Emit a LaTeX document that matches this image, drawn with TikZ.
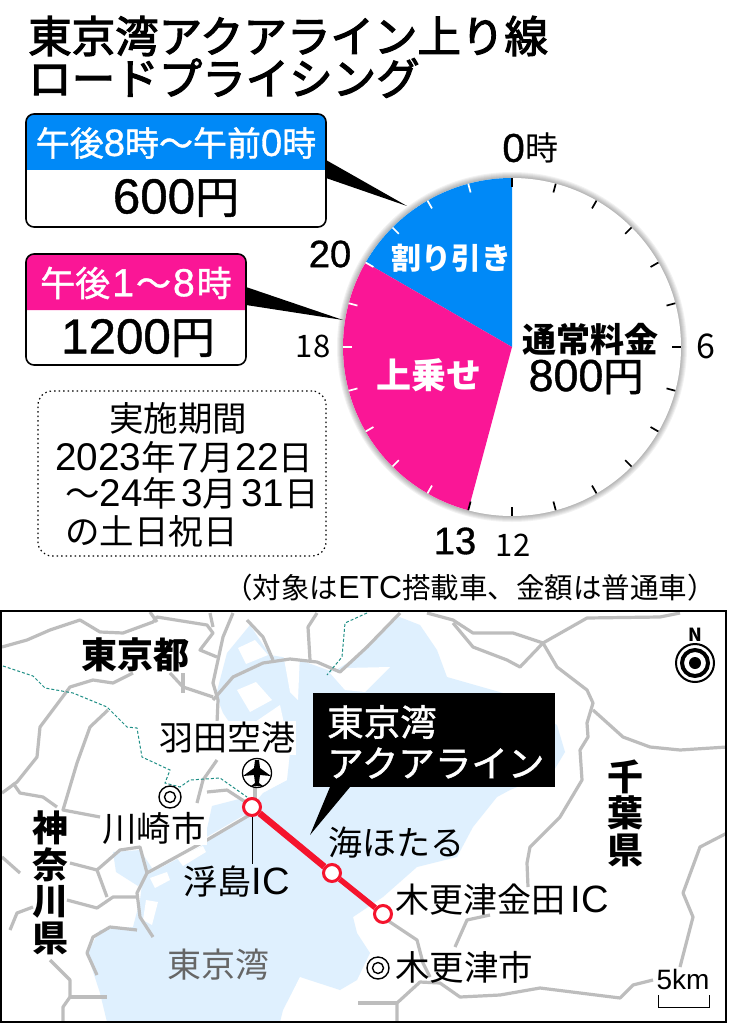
\documentclass[tikz,border=0pt]{standalone}
\usepackage{fontspec}
\setmainfont{Noto Sans CJK JP}
\newfontfamily\medjp[FakeBold=1.2]{Noto Sans CJK JP}
\newfontfamily\heavyjp[FakeBold=2.6]{Noto Sans CJK JP}
\newfontfamily\lat[Scale=1.12]{Liberation Sans}
\newfontfamily\latm[Scale=1.12,FakeBold=0.9]{Liberation Sans}
\definecolor{discount}{HTML}{0089F7}
\definecolor{surcharge}{HTML}{FA1696}
\definecolor{bay}{HTML}{DFF0FE}
\definecolor{road}{HTML}{BDBDBD}
\definecolor{border}{HTML}{1F8F86}
\definecolor{line}{HTML}{F5142D}
\begin{document}
\begin{tikzpicture}[
      x=1pt,y=-1pt,
      txt/.style={inner sep=0pt,font=\fontsize{#1}{#1}\selectfont},
      med/.style={inner sep=0pt,font=\fontsize{#1}{#1}\selectfont\medjp},
      bold/.style={inner sep=0pt,font=\fontsize{#1}{#1}\selectfont\bfseries},
      tall/.style={inner sep=0pt,align=center,font=\fontsize{#1}{36.5}\selectfont\bfseries},
      farebox/.style={draw,rounded corners=8,line width=1.6pt,inner sep=0pt},
      tick/.style={line width=1.7pt},
      roadway/.style={draw=road,line width=3.2pt,line join=round},
      bound/.style={draw=border,line width=1pt,densely dashed},
      ic/.style={draw=line,line width=3pt,fill=white,circle,minimum size=17pt,inner sep=0pt},
      city/.style={draw,line width=1.4pt,circle,minimum size=22pt,inner sep=0pt},
    ]
    \useasboundingbox (0,0) rectangle (728,1024);
    \fill[white] (0,0) rectangle (728,1024);

    \node[txt=43.5,anchor=west] (title1) at (28,36) {\heavyjp 東京湾アクアライン上り線};
    \node[txt=43.5,anchor=west] (title2) at (28,78) {\heavyjp ロードプライシング};

    \begin{scope}[shift={(512,347)},y=1pt]
      \foreach \r in {175,174,173,172,171,170}
        \fill[black,opacity=0.05] (0,0) circle (\r);
      \fill[white] (0,0) circle (169);
      \fill[discount] (0,0) -- (90:169) arc[start angle=90,end angle=150,radius=169] -- cycle;
      \fill[surcharge] (0,0) -- (150:169) arc[start angle=150,end angle=255,radius=169] -- cycle;
      \foreach \h in {0,...,13}
        \draw[tick] ({90-15*\h}:160) -- ({90-15*\h}:169);
      \foreach \h in {14,...,23}
        \draw[tick,white] ({90-15*\h}:160) -- ({90-15*\h}:169);
    \end{scope}

    \node[bold=30,white] (cut) at (451,258) {割り引き};
    \node[bold=35,white] (extra) at (429,375) {上乗せ};
    \node[bold=34] (normal) at (590,340) {通常料金};
    \node[med=40] (normalyen) at (586,377) {{\latm 800}円};

    \node[txt=36,anchor=east] (h0) at (525,148) {\latm 0};
    \node[txt=33,anchor=west] (h0b) at (h0.east) {時};
    \node[txt=34] (h20) at (330,254) {\latm 20};
    \node[txt=31] (h18) at (313,346) {18};
    \node[txt=34] (h6) at (706,346) {6};
    \node[txt=31] (h12) at (513,545) {12};
    \node[txt=34] (h13) at (455,541) {\latm 13};

    \coordinate (bluetip) at (407,206);
    \coordinate (pinktip) at (343,320);
    \fill (326,160) -- (bluetip) -- (326,178) -- cycle;
    \fill (246,287) -- (pinktip) -- (246,305) -- cycle;

    \fill[discount,rounded corners=8] (26,170) [sharp corners] -- (26,170) [rounded corners=8] -- (26,114) -- (326,114) [sharp corners] -- (326,170) -- cycle;
    \fill[surcharge,rounded corners=8] (26,310) [sharp corners] -- (26,310) [rounded corners=8] -- (26,254) -- (246,254) [sharp corners] -- (246,310) -- cycle;
    \node[farebox,minimum width=300pt,minimum height=113pt] (bluebox) at (176,170.5) {};
    \node[farebox,minimum width=220pt,minimum height=111pt] (pinkbox) at (136,309.5) {};
    \node[med=34,white] (bluetime) at (176,143) {午後{\latm 8}時～午前{\latm 0}時};
    \node[med=44] (blueyen) at (176,198) {{\latm 600}円};
    \node[med=35,white] (pinktime) at (136,283) {午後\hskip2pt{\latm 1}\hskip2pt～\hskip2pt{\latm 8}\hskip2pt時};
    \node[med=44] (pinkyen) at (138,338) {{\latm 1200}円};

    \node[draw,dash pattern=on 1.5pt off 3pt,line width=1.2pt,rounded corners=14,minimum width=288pt,minimum height=165pt,inner sep=0pt] (period) at (182,473.5) {};
    \node[txt=34.5] (period0) at (178,418) {実施期間};
    \node[txt=34.5,anchor=west] (period1) at (55,457) {{\lat 2023}年\hskip2pt{\lat 7}月\hskip2pt{\lat 22}日};
    \node[txt=34.5,anchor=west] (period2) at (65,493) {～{\lat 24}年\hskip4pt{\lat 3}月\hskip4pt{\lat 31}日};
    \node[txt=34.5,anchor=west] (period3) at (65,531) {の土日祝日};
    \node[txt=28.5] (note) at (470,588) {（対象は{\lat ETC}搭載車、金額は普通車）};

    \begin{scope}
      \clip (1,611) rectangle (726,1022);
      \fill[bay] (250,625) -- (270,655) -- (300,660) -- (333,672) -- (352,660) -- (373,640) -- (397,616) -- (420,625) -- (437,650) -- (447,677) -- (503,693) -- (557,725) -- (565,752) -- (553,772) -- (510,790) -- (497,797) -- (473,827) -- (457,857) -- (417,867) -- (383,897) -- (353,917) -- (357,933) -- (370,953) -- (357,980) -- (340,990) -- (300,977) -- (283,1010) -- (280,1022) -- (107,1022) -- (100,993) -- (87,953) -- (100,930) -- (133,927) -- (140,900) -- (143,877) -- (200,847) -- (243,817) -- (263,793) -- (287,780) -- (292,735) -- (238,735) -- (223,713) -- (216,695) -- (227,653) -- cycle;
      \fill[bay] (212,806) -- (243,798) -- (246,814) -- (205,838) -- cycle;
      \fill[bay] (113,852) -- (140,850) -- (152,868) -- (138,886) -- (116,872) -- cycle;
      \fill[white] (238,648) -- (255,640) -- (268,655) -- (246,664) -- cycle;
      \fill[white] (237,690) -- (256,682) -- (272,700) -- (250,712) -- cycle;
      \fill[white] (283,653) -- (300,653) -- (298,700) -- (290,692) -- cycle;
      \fill[white] (330,673) -- (345,668) -- (390,667) -- (365,692) -- (345,690) -- cycle;
      \fill[white] (255,722) -- (280,705) -- (285,728) -- (258,738) -- cycle;
      \fill[white] (240,735) -- (292,735) -- (275,760) -- (287,780) -- (262,793) -- (245,790) -- cycle;
      \fill[white] (177,858) -- (203,846) -- (206,852) -- (183,866) -- cycle;
      \fill[white] (150,878) -- (167,872) -- (170,880) -- (155,888) -- cycle;
      \fill[white] (146,900) -- (158,902) -- (152,925) -- (143,920) -- cycle;
      \fill[white] (300,977) -- (330,1000) -- (283,1012) -- cycle;

      \draw[roadway] (2,647) -- (27,640) -- (50,630) -- (80,620) -- (100,632) -- (123,633) -- (153,622) -- (157,617) -- (207,625) -- (213,633) -- (200,650) -- (217,657);
      \draw[roadway] (150,612) -- (157,622);
      \draw[roadway] (210,613) -- (213,627);
      \draw[roadway] (233,613) -- (223,637) -- (213,683) -- (218,700) -- (217,723);
      \draw[roadway] (213,700) -- (233,677) -- (263,663) -- (290,659) -- (317,662) -- (340,672) -- (367,647) -- (400,613);
      \draw[roadway] (310,660) -- (308,627) -- (317,613);
      \draw[roadway] (247,620) -- (263,637) -- (273,660);
      \draw[roadway] (2,793) -- (17,782) -- (37,757) -- (40,727) -- (70,687) -- (93,680) -- (113,683) -- (133,673);
      \draw[roadway] (170,673) -- (183,687) -- (213,697);
      \draw[roadway] (183,673) -- (183,693);
      \draw[roadway] (108,710) -- (90,727) -- (77,763) -- (63,810) -- (100,817);
      \draw[roadway] (13,783) -- (20,793) -- (43,797) -- (57,807);
      \draw[roadway] (217,760) -- (203,780) -- (197,803);
      \draw[roadway] (207,792) -- (227,790) -- (247,803);
      \draw[roadway] (253,813) -- (207,840) -- (147,873) -- (137,893) -- (140,917) -- (153,937);
      \draw[roadway] (97,870) -- (120,850) -- (140,847) -- (147,873);
      \draw[roadway] (2,857) -- (20,873);
      \draw[roadway] (70,863) -- (97,870) -- (107,897);
      \draw[roadway] (67,900) -- (97,908) -- (113,897) -- (137,897);
      \draw[roadway] (10,930) -- (17,913) -- (33,907);
      \draw[roadway] (137,930) -- (110,927) -- (93,937) -- (87,953) -- (97,975);
      \draw[roadway] (50,960) -- (70,980) -- (70,997) -- (63,1007) -- (63,1022);
      \draw[roadway] (70,997) -- (107,997);
      \draw[roadway] (255,787) -- (255,800);
      \draw[roadway] (427,613) -- (453,620) -- (473,633) -- (513,633) -- (543,643) -- (587,618) -- (660,617) -- (680,613);
      \draw[roadway] (453,623) -- (473,647) -- (507,660) -- (520,667) -- (543,643);
      \draw[roadway] (543,643) -- (557,667) -- (587,690) -- (593,703) -- (587,723) -- (588,737) -- (580,750) -- (582,780) -- (560,817) -- (530,847) -- (527,863) -- (528,887);
      \draw[roadway] (593,710) -- (623,737) -- (650,747) -- (680,750) -- (727,747);
      \draw[roadway] (727,833) -- (700,847) -- (683,893) -- (693,917) -- (680,967);
      \draw[roadway] (387,920) -- (417,940) -- (423,963) -- (430,977);
      \draw[roadway] (490,915) -- (467,920) -- (455,947);
      \draw[roadway] (653,980) -- (633,985) -- (620,998) -- (540,988) -- (500,995) -- (460,997) -- (440,983) -- (420,982) -- (397,1003) -- (397,1022);
      \draw[roadway] (358,1003) -- (397,1003);

      \draw[bound] (3,666) -- (33,676) -- (45,688) -- (73,693) -- (107,707) -- (127,727) -- (137,728) -- (142,757) -- (170,770) -- (165,783) -- (180,787) -- (190,780) -- (220,778) -- (247,797);
      \draw[bound] (367,613) -- (345,623) -- (342,657) -- (327,675);
    \end{scope}
    \draw[line width=2pt] (1,611) rectangle (726,1022);

    \node[bold=36,fill=white] (tokyo) at (135,655) {東京都};
    \node[tall=36] (kanagawa) at (50,883) {神\\奈\\川\\県};
    \node[tall=36] (chiba) at (625,813) {千\\葉\\県};
    \node[txt=34,fill=white,inner sep=1pt] (haneda) at (227,738) {羽田空港};
    \node[txt=34.5,fill=white,inner sep=1pt] (kawasaki) at (154,828) {川崎市};
    \node[txt=34] (ukishima) at (237,882) {浮島{\lat IC}};
    \node[txt=34,black!60] (bayname) at (218,965) {東京湾};
    \node[txt=34] (umihotaru) at (396,843) {海ほたる};
    \node[txt=34,anchor=west] (kanada) at (395,900) {木更津金田\,{\lat IC}};
    \node[txt=34.5,anchor=west] (kisarazu) at (395,967) {木更津市};

    \node[city,fill=white] (kawasakidot) at (170,797) {};
    \node[city,minimum size=11pt] at (kawasakidot) {};
    \node[city,fill=white] (kisarazudot) at (378,968) {};
    \node[city,minimum size=11pt] at (kisarazudot) {};

    \node[circle,draw,fill=white,line width=1.3pt,minimum size=29pt,inner sep=0pt] (airport) at (257,773) {};
    \fill (255,760) -- (259,760) -- (260,768) -- (271,776) -- (260,775) -- (259,783) -- (263,786) -- (251,786) -- (255,783) -- (254,775) -- (243,776) -- (254,768) -- cycle;

    \fill (330,787) -- (310,835) -- (350,787) -- cycle;
    \fill (313,693) rectangle (555,787);
    \node[txt=36.5,white,anchor=west] (aqua1) at (327,722) {\medjp 東京湾};
    \node[txt=36.5,white,anchor=west] (aqua2) at (327,763) {\medjp アクアライン};

    \node[ic] (ic1) at (252,807) {};
    \node[ic] (ic2) at (332,873) {};
    \node[ic] (ic3) at (383,914) {};
    \draw[line,line width=6.5pt] (ic1) -- (ic2);
    \draw[line,line width=5.5pt] (ic2) -- (ic3);
    \draw[line width=1pt] (ic1) -- (252,864);

    \node[draw,circle,line width=2pt,minimum size=38pt,inner sep=0pt] (compass) at (695,663) {};
    \node[draw,circle,line width=4pt,minimum size=26pt,inner sep=0pt] (dial) at (compass) {};
    \fill (compass) circle (6);
    \draw[line width=3pt] (compass) -- (695,644);
    \node[bold=18] (north) at (695,635) {N};

    \node[txt=25] (scale) at (683,979) {\lat 5km};
    \draw[line width=1pt] (658,995) -- (658,1007) -- (709,1007) -- (709,995);
\end{tikzpicture}
\end{document}
